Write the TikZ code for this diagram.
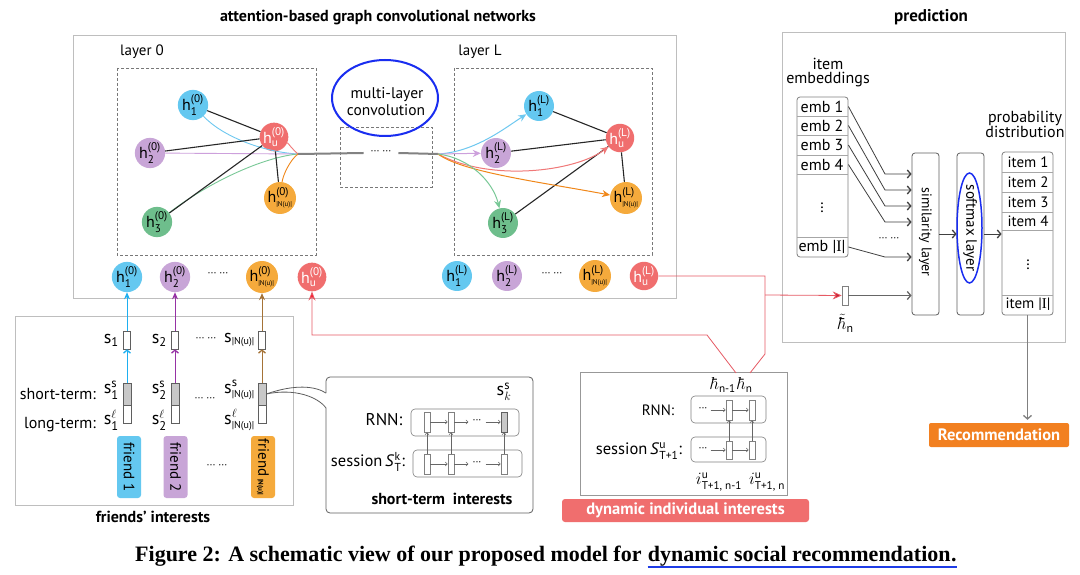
\documentclass[tikz,border=0pt]{standalone}
\usepackage{amsmath}
\usepackage{fontspec}
\setmainfont{PT Sans}
\setsansfont{PT Sans}
\newfontfamily\capfont{Liberation Serif}
\usetikzlibrary{arrows.meta,shapes.geometric,calc}
\definecolor{nblue}{RGB}{100,200,240}
\definecolor{npurple}{RGB}{200,165,215}
\definecolor{nred}{RGB}{240,110,110}
\definecolor{norange}{RGB}{245,170,60}
\definecolor{ngreen}{RGB}{110,190,140}
\definecolor{cblue}{RGB}{25,45,240}
\definecolor{boxgray}{RGB}{190,190,190}
\definecolor{dashgray}{RGB}{120,120,120}
\definecolor{lgray}{RGB}{130,130,130}
\definecolor{dgray}{RGB}{95,95,95}
\definecolor{ablue}{RGB}{110,200,240}
\definecolor{apurple}{RGB}{205,160,220}
\definecolor{ared}{RGB}{240,120,120}
\definecolor{aorange}{RGB}{240,135,25}
\definecolor{agreen}{RGB}{120,200,150}
\definecolor{sblue}{RGB}{30,175,240}
\definecolor{spurple}{RGB}{150,50,165}
\definecolor{sbrown}{RGB}{165,115,55}
\definecolor{rline}{RGB}{230,90,100}
\definecolor{rarrow}{RGB}{255,20,40}
\definecolor{rdark}{RGB}{200,30,50}
\definecolor{recorange}{RGB}{242,128,32}
\definecolor{dynred}{RGB}{240,110,110}
\definecolor{stgray}{RGB}{200,200,200}
\definecolor{ulblue}{RGB}{30,60,230}
\newcommand\fsz[1]{\fontsize{#1}{#1}\selectfont}
\newcommand\hh[2]{h$^{\text{(#1)}}_{\text{#2}}$}
\newcommand\bigI{{\capfont I}}
\tikzset{
 gbox/.style={draw=boxgray,line width=0.8pt},
 dbox/.style={draw=dashgray,line width=0.6pt,dash pattern=on 3pt off 2pt},
 hn/.style={circle,minimum size=23pt,inner sep=0pt,font=\fsz{16}},
 hb/.style={circle,minimum size=22pt,inner sep=0pt,font=\fsz{16}},
 kedge/.style={line width=1.1pt,draw=black!85},
 lbl/.style={font=\fsz{14}},
 plbl/.style={font=\fsz{16}},
 btitle/.style={font=\bfseries\fsz{16}},
 carrow/.style={line width=1pt,-{Stealth[length=8pt,width=7pt]}},
 cell/.style={draw=gray,fill=white,minimum width=6pt,minimum height=20pt,inner sep=0pt,line width=0.6pt},
 rbox/.style={draw=gray,rounded corners=4pt,line width=0.6pt,inner sep=0pt},
 tarr/.style={draw=gray!80!black,line width=0.6pt,-{Straight Barb[length=2pt,width=4pt]}},
 parrow/.style={draw=black!75,line width=0.8pt,-{Straight Barb[length=3.5pt,width=8pt,line width=1.3pt]}},
 redl/.style={draw=rline,line width=0.8pt},
 sbox/.style={draw=dgray,fill=white,minimum width=7pt,minimum height=18pt,inner sep=0pt,line width=0.6pt},
 stbox/.style={draw=dgray,fill=stgray,minimum width=8pt,minimum height=22pt,inner sep=0pt,line width=0.6pt},
 ltbox/.style={draw=dgray,fill=white,minimum width=8pt,minimum height=18pt,inner sep=0pt,line width=0.6pt},
 slab/.style={font=\fsz{18},inner sep=1pt},
 upa/.style={line width=1pt,-{Stealth[length=7pt,width=6pt]}},
 lowa/.style={line width=1pt,-{Straight Barb[length=3pt,width=7pt,line width=1.3pt]}},
 fbox/.style={rotate=-90,rounded corners=3pt,minimum width=62pt,minimum height=24pt,inner sep=0pt,font=\fsz{15}},
 colbox/.style={draw=gray,rounded corners=3pt,line width=0.8pt,inner sep=0pt},
 dots/.style={font=\fsz{11},inner sep=0pt},
 capf/.style={font=\capfont\bfseries\fsz{22},anchor=base west,inner sep=0pt},
}
\begin{document}
\begin{tikzpicture}[x=1pt,y=-1pt]
\useasboundingbox (0,0) rectangle (1080,575);
\fill[white] (0,0) rectangle (1080,575);

% ================= GCN =================
\node[btitle] (tgcn) at (378,18) {attention-based graph convolutional networks};
\draw[gbox] (73,35) rectangle (676,298);
\node[lbl,font=\fsz{15}] (l0) at (142,52) {layer 0};
\node[lbl,font=\fsz{15}] (lL) at (480,52) {layer L};
\draw[dbox] (117,68) rectangle (316,255);
\draw[dbox] (454,68) rectangle (652,255);
\draw[dbox] (340,127) rectangle (432,187);
\node[ellipse,draw=cblue,line width=2pt,minimum width=106pt,minimum height=76pt] (mlc) at (385,98) {};
\node[plbl,font=\fsz{15.5}] (mlc1) at (387,95) {multi-layer};
\node[plbl,font=\fsz{15.5}] (mlc2) at (386,110) {convolution};

% layer 0 nodes
\node[hn,fill=nblue] (a1) at (193,105) {\hh{0}{1}};
\node[hn,fill=npurple] (a2) at (150,153) {\hh{0}{2}};
\node[hn,fill=nred,text=white] (au) at (274,137) {\hh{0}{u}};
\node[hn,fill=norange] (aN) at (280,198) {\hh{0}{\fsz{7}|N(u)|}};
\node[hn,fill=ngreen] (a3) at (157,222) {\hh{0}{3}};
\coordinate (C0) at (298,154);
\draw[ablue,line width=0.9pt] (a1) .. controls (222,136) and (262,152) .. (C0);
\draw[apurple,line width=0.9pt] (a2) -- (C0);
\draw[agreen,line width=0.9pt] (a3) .. controls (212,180) and (265,157) .. (C0);
\draw[ared,line width=0.9pt] (au) .. controls (288,143) and (293,150) .. (C0);
\draw[aorange,line width=0.9pt] (aN) .. controls (283,175) and (290,160) .. (C0);
\draw[kedge] (au) -- (a1);
\draw[kedge] (au) -- (a2);
\draw[kedge] (au) -- (a3);
\draw[kedge] (au) -- (aN);

% middle line
\node[dots,inner xsep=7pt] (mdots) at (381,153) {··· ···};
\coordinate (CL) at (438,154);
\draw[lgray,line width=2pt] (C0) -- (mdots.west);
\draw[lgray,line width=2pt] (mdots.east) -- (CL);

% layer L nodes
\node[hn,fill=nblue] (b1) at (539,106) {\hh{L}{1}};
\node[hn,fill=npurple] (b2) at (496,153) {\hh{L}{2}};
\node[hn,fill=nred,text=white] (bu) at (620,138) {\hh{L}{u}};
\node[hn,fill=norange] (bN) at (626,198) {\hh{L}{\fsz{7}|N(u)|}};
\node[hn,fill=ngreen] (b3) at (503,223) {\hh{L}{3}};
\draw[kedge] (bu) -- (b1);
\draw[kedge] (bu) -- (b2);
\draw[kedge] (bu) -- (b3);
\draw[kedge] (bu) -- (bN);
\draw[carrow,ablue] (CL) .. controls (475,152) and (505,128) .. (b1);
\draw[carrow,apurple] (CL) -- (b2);
\draw[carrow,ared] (CL) .. controls (490,182) and (575,172) .. (bu);
\draw[carrow,aorange] (CL) .. controls (462,172) and (540,182) .. (bN);
\draw[carrow,agreen] (CL) .. controls (470,158) and (493,182) .. (b3);

% bottom rows
\node[hb,fill=nblue] (c1) at (127,277) {\hh{0}{1}};
\node[hb,fill=npurple] (c2) at (175,277) {\hh{0}{2}};
\node[dots] (cdots) at (218,275) {··· ···};
\node[hb,fill=norange] (cN) at (262,277) {\hh{0}{\fsz{7}|N(u)|}};
\node[hb,fill=nred,text=white] (cu) at (312,277) {\hh{0}{u}};
\node[hb,fill=nblue] (d1) at (457,276) {\hh{L}{1}};
\node[hb,fill=npurple] (d2) at (507,276) {\hh{L}{2}};
\node[dots] (ddots) at (552,275) {··· ···};
\node[hb,fill=norange] (dN) at (595,276) {\hh{L}{\fsz{7}|N(u)|}};
\node[hb,fill=nred,text=white] (du) at (644,276) {\hh{L}{u}};

% ================= friends =================
\draw[gbox] (15,316) rectangle (293,505);
\node[btitle] (tfr) at (153,517) {friends’ interests};
\node[lbl,font=\fsz{16},anchor=east,inner sep=1pt] (lst) at (97,394) {short-term:};
\node[lbl,font=\fsz{16},anchor=east,inner sep=1pt] (llt) at (97,425) {long-term:};
% column 1
\node[sbox] (s1) at (127,340) {};
\node[stbox] (st1) at (127,394) {};
\node[ltbox] (lt1) at (127,414) {};
\draw[upa,sblue] (s1) -- (c1);
\draw[lowa,sblue] (st1) -- (s1);
\node[slab,anchor=east] (ls1) at (120,340) {s$_{\text{1}}$};
\node[slab,anchor=east] (lss1) at (120,390) {s$_{\text{1}}^{\text{s}}$};
\node[slab,anchor=east] (lls1) at (120,420) {s$_{\text{1}}^{\ell}$};
\node[fbox,fill=nblue] (f1) at (129,467) {friend 1};
% column 2
\node[sbox] (s2) at (175,340) {};
\node[stbox] (st2) at (175,394) {};
\node[ltbox] (lt2) at (175,414) {};
\draw[upa,spurple] (s2) -- (c2);
\draw[lowa,spurple] (st2) -- (s2);
\node[slab,anchor=east] (ls2) at (168,340) {s$_{\text{2}}$};
\node[slab,anchor=east] (lss2) at (168,390) {s$_{\text{2}}^{\text{s}}$};
\node[slab,anchor=east] (lls2) at (168,420) {s$_{\text{2}}^{\ell}$};
\node[fbox,fill=npurple] (f2) at (175.5,467) {friend 2};
% column 3
\node[sbox] (s3) at (262,340) {};
\node[stbox] (st3) at (262,394) {};
\node[ltbox] (lt3) at (262,414) {};
\draw[upa,sbrown] (s3) -- (cN);
\draw[lowa,sbrown] (st3) -- (s3);
\node[slab,anchor=east] (ls3) at (256,340) {s$_{\text{\fsz{10}|N(u)|}}$};
\node[slab,anchor=east] (lss3) at (256,390) {s$_{\text{\fsz{10}|N(u)|}}^{\text{s}}$};
\node[slab,anchor=east] (lls3) at (256,420) {s$_{\text{\fsz{10}|N(u)|}}^{\ell}$};
\node[fbox,fill=norange] (f3) at (263,467) {friend\,{\fsz{7}\bfseries|N(u)|}};
\node[dots] (fd1) at (206,340) {··· ···};
\node[dots] (fd2) at (205,400) {··· ···};
\node[dots] (fd3) at (217,467) {··· ···};

% ================= short-term interests =================
\coordinate (cb1) at (326,393);
\coordinate (cb2) at (326,408);
\draw[draw=dgray,line width=0.8pt,rounded corners=4pt] (cb1) -- (326,377) -- (533,377) -- (533,513) -- (326,513) -- (cb2);
\draw[draw=dgray,line width=0.8pt] (st3.east) .. controls (295,384) and (315,386) .. (cb1);
\draw[draw=dgray,line width=0.8pt] (st3.east) .. controls (295,388) and (318,397) .. (cb2);
\node[plbl,font=\fsz{17}] (srnnl) at (384,420) {RNN:};
\node[plbl,font=\fsz{16.5}] (ssesl) at (368,462) {session\,\textit{S}$^{\text{k}}_{\text{T}}$:};
\node[rbox,minimum width=108pt,minimum height=27pt] (srnn) at (465,422.5) {};
\node[rbox,minimum width=109pt,minimum height=27pt] (sses) at (467.5,463.5) {};
\node[cell] (sc1) at (427,422) {};
\node[cell] (sc2) at (451,422) {};
\node[cell,fill=stgray,draw=dgray] (sc3) at (504,422) {};
\node[cell] (ss1) at (427,464) {};
\node[cell] (ss2) at (451,464) {};
\node[cell] (ss3) at (504,464) {};
\node[dots,inner xsep=4pt] (sd1) at (477,422) {···};
\node[dots,inner xsep=4pt] (sd2) at (477,464) {···};
\draw[tarr] (sc1) -- (sc2);
\draw[tarr] (sc2) -- (sd1);
\draw[tarr] (sd1) -- (sc3);
\draw[tarr] (ss1) -- (ss2);
\draw[tarr] (ss2) -- (sd2);
\draw[tarr] (sd2) -- (ss3);
\draw[tarr] (ss1) -- (sc1);
\draw[tarr] (ss2) -- (sc2);
\draw[tarr] (ss3) -- (sc3);
\node[slab] (ssk) at (504,392) {s$^{\text{s}}_{k}$};
\node[btitle] (tst) at (442,499) {short-term\ \ interests};

% ================= dynamic individual interests =================
\draw[gbox,draw=boxgray!80!black] (580,372) rectangle (787,495);
\node[plbl,font=\fsz{15}] (drnnl) at (658,410) {RNN:};
\node[plbl,font=\fsz{16.5}] (dsesl) at (639,451) {session\,\textit{S}$^{\text{u}}_{\text{T+1}}$:};
\node[rbox,minimum width=75pt,minimum height=27pt] (drnn) at (728.5,409.5) {};
\node[rbox,minimum width=75pt,minimum height=25pt] (dses) at (728.5,449.5) {};
\node[cell] (dc1) at (729,410) {};
\node[cell] (dc2) at (752,410) {};
\node[cell,minimum height=18pt] (ds1) at (729,450) {};
\node[cell,minimum height=18pt] (ds2) at (752,450) {};
\node[dots,inner xsep=3pt] (dd1) at (703,410) {···};
\node[dots,inner xsep=3pt] (dd2) at (703,450) {···};
\draw[tarr] (dd1) -- (dc1);
\draw[tarr] (dc1) -- (dc2);
\draw[tarr] (dd2) -- (ds1);
\draw[tarr] (ds1) -- (ds2);
\draw[tarr] (ds1) -- (dc1);
\draw[tarr] (ds2) -- (dc2);
\node[font=\fsz{16},inner sep=0pt,anchor=east] (hn1) at (736,385) {$\hbar_{\text{n-1}}$};
\node[font=\fsz{16},inner sep=0pt,anchor=west] (hn0) at (738,385) {$\hbar_{\text{n}}$};
\node[font=\fsz{16},inner sep=0pt] (i1) at (719,482) {$i^{\text{u}}_{\text{T+1, n-1}}$};
\node[font=\fsz{16},inner sep=0pt] (i2) at (767,482) {$i^{\text{u}}_{\text{T+1, n}}$};
\node[fill=dynred,rounded corners=3pt,minimum width=247pt,minimum height=23pt,text=white,font=\bfseries\fsz{16.5}] (dyn) at (685.5,510.5) {dynamic individual interests};

% ================= prediction =================
\node[btitle,font=\bfseries\fsz{17}] (tpred) at (931,17) {prediction};
\draw[gbox] (782,32) rectangle (1065,342);
\node[plbl] (tie1) at (828,64) {item};
\node[plbl] (tie2) at (828,80) {embeddings};
\node[colbox,minimum width=51pt,minimum height=160pt] (embcol) at (822.5,177) {};
\foreach \yy in {116,135,155,174,237} \draw[gray!70,line width=0.6pt] (797,\yy) -- (848,\yy);
\node[plbl] (e1) at (822,106.5) {emb 1};
\node[plbl] (e2) at (822,125.5) {emb 2};
\node[plbl] (e3) at (822,145) {emb 3};
\node[plbl] (e4) at (822,164.5) {emb 4};
\node[plbl] (ed) at (822,205) {$\vdots$};
\node[plbl] (eI) at (822,247) {emb |\bigI|};
\node[draw=dgray,rounded corners=3pt,line width=0.8pt,minimum width=27pt,minimum height=162pt,inner sep=0pt] (sim) at (925.5,234) {};
\node[lbl,rotate=-90] (simt) at (925.5,232) {similarity layer};
\node[draw=dgray,rounded corners=3pt,line width=0.8pt,minimum width=27pt,minimum height=162pt,inner sep=0pt] (soft) at (970.5,234) {};
\node[ellipse,draw=cblue,line width=1.5pt,minimum width=25pt,minimum height=110pt,inner sep=0pt] (softe) at (969.5,228) {};
\node[lbl,rotate=-90,font=\fsz{15}] (softt) at (970,228) {softmax layer};
\node[plbl] (tpd1) at (1025,118) {probability};
\node[plbl] (tpd2) at (1025,132) {distribution};
\node[colbox,minimum width=51pt,minimum height=163pt] (itemcol) at (1027.5,233.5) {};
\foreach \yy in {172,192,212,230,295} \draw[gray!70,line width=0.6pt] (1002,\yy) -- (1053,\yy);
\node[plbl,font=\fsz{15}] (it1) at (1028,162) {item 1};
\node[plbl,font=\fsz{15}] (it2) at (1028,182) {item 2};
\node[plbl,font=\fsz{15}] (it3) at (1028,202) {item 3};
\node[plbl,font=\fsz{15}] (it4) at (1028,221) {item 4};
\node[plbl] (itd) at (1028,262) {$\vdots$};
\node[plbl,font=\fsz{15}] (itI) at (1028,304.5) {item |\bigI|};
\coordinate (k1) at (885,174);
\coordinate (k2) at (885,190);
\coordinate (k3) at (885,206);
\coordinate (k4) at (885,222);
\coordinate (kI) at (885,257);
\draw[parrow] (embcol.east |- e1) -- (k1) -- (sim.west |- k1);
\draw[parrow] (embcol.east |- e2) -- (k2) -- (sim.west |- k2);
\draw[parrow] (embcol.east |- e3) -- (k3) -- (sim.west |- k3);
\draw[parrow] (embcol.east |- e4) -- (k4) -- (sim.west |- k4);
\draw[parrow] (embcol.east |- eI) -- (kI) -- (sim.west |- kI);
\node[dots] (pd) at (889,240) {··· ···};
\node[draw=gray,fill=white,minimum width=6pt,minimum height=19pt,inner sep=0pt,line width=0.6pt] (ht) at (845,295.5) {};
\node[font=\fsz{17},inner sep=0pt] (htl) at (846,323) {$\tilde{\hbar}_{\text{n}}$};
\draw[parrow,draw=gray!80!black] (ht.east) -- (sim.west |- ht.east);
\draw[parrow] (sim.east |- soft.west) -- (soft.west);
\draw[parrow] (soft.east) -- (itemcol.west |- soft.east);
\node[fill=recorange,rounded corners=2pt,text=white,font=\bfseries\fsz{16.5},minimum width=140pt,minimum height=24pt,inner sep=0pt] (rec) at (999,435) {Recommendation};
\draw[parrow,draw=gray,shorten >=3pt] (itemcol.south) -- (itemcol.south |- rec.north);

% ================= red connectors =================
\coordinate (jn) at (765,295);
\coordinate (hntop) at (750,373);
\coordinate (hn1top) at (736,373);
\draw[redl] (du.east) -- (765,276) -- (765,354) -- (hntop);
\draw[redl,-{Stealth[length=9pt,width=8pt,fill=rdark]}] (jn) -- (ht.west);
\draw[redl,-{Stealth[length=9pt,width=7pt,fill=rarrow]}] (hn1top) -- (707,335) -- (312,335) -- (cu);

% ================= caption =================
\node[capf] (cap1) at (135,561) {Figure 2: A schematic view of our proposed model for};
\node[capf] (cap2) at ($(cap1.base east)+(6,0)$) {dynamic social recommendation};
\node[capf] (cap3) at (cap2.base east) {.};
\draw[ulblue,line width=1.5pt] ($(cap2.base west)+(0,6)$) -- ($(cap3.base east)+(0,6)$);
\end{tikzpicture}
\end{document}
